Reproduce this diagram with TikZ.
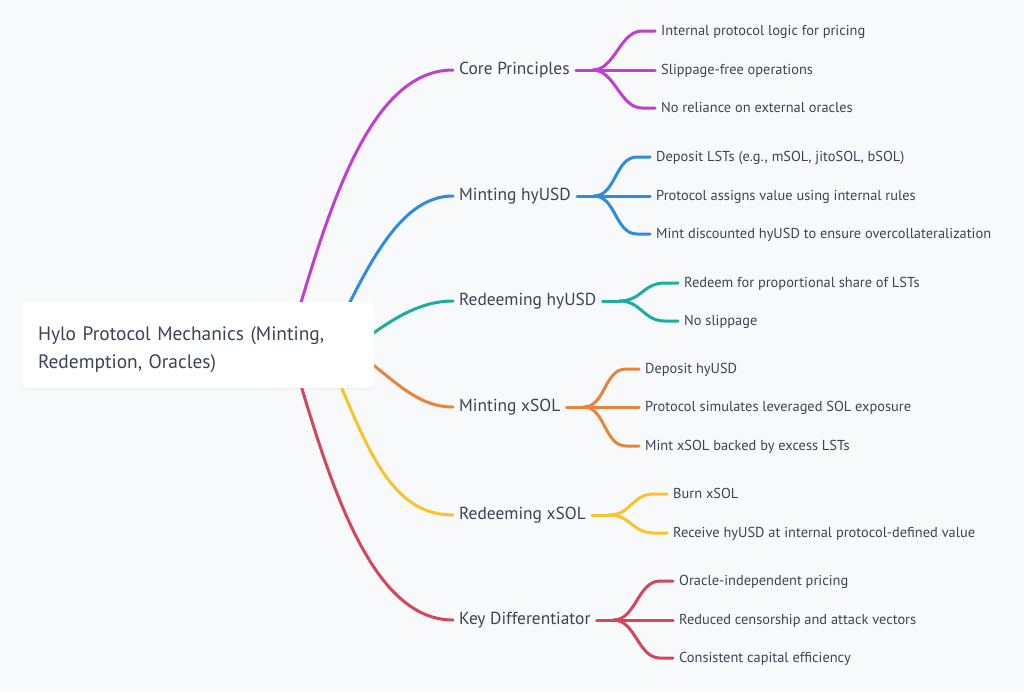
\documentclass[tikz,border=0pt]{standalone}
\usepackage{fontspec}
\setmainfont{PT Sans}
\usetikzlibrary{calc,backgrounds}
\definecolor{bg}{HTML}{F8F9FB}
\definecolor{txt}{HTML}{3B4454}
\definecolor{cpur}{HTML}{C03FD2}
\definecolor{cblu}{HTML}{2F8BDD}
\definecolor{ctea}{HTML}{1BAE9E}
\definecolor{cora}{HTML}{E8843A}
\definecolor{cyel}{HTML}{F8C42A}
\definecolor{cred}{HTML}{D4465C}
\begin{document}
\begin{tikzpicture}[x=1pt,y=-1pt,
  rootbox/.style={fill=white,rounded corners=6pt,minimum width=352pt,minimum height=86pt,
    text width=320pt,inner xsep=16pt,inner ysep=0pt,align=left,text=txt,
    font=\fontsize{19.4}{28}\selectfont},
  branch/.style={anchor=west,inner xsep=6pt,inner ysep=0pt,text=txt,
    text height=0.92em,text depth=0pt,font=\fontsize{17.4}{20}\selectfont},
  leaf/.style={anchor=west,inner xsep=6pt,inner ysep=0pt,text=txt,
    text height=0.95em,text depth=0pt,font=\fontsize{14.4}{17}\selectfont},
  link/.style={line width=3pt,line cap=round}]
\useasboundingbox (0,0) rectangle (1024,691);

% root
\node[rootbox] (root) at (198,345) {\rule{0pt}{23pt}Hylo Protocol Mechanics (Minting,\\Redemption, Oracles)};

% branches
\node[branch] (b1) at (453,70)  {Core Principles};
\node[branch] (b2) at (453,196) {Minting hyUSD};
\node[branch] (b3) at (453,301) {Redeeming hyUSD};
\node[branch] (b4) at (453,407) {Minting xSOL};
\node[branch] (b5) at (453,515) {Redeeming xSOL};
\node[branch] (b6) at (453,620) {Key Differentiator};

% leaves
\node[leaf] (l11) at (655,31)  {Internal protocol logic for pricing};
\node[leaf] (l12) at (655,70)  {Slippage-free operations};
\node[leaf] (l13) at (655,108) {No reliance on external oracles};
\node[leaf] (l21) at (650,157) {Deposit LSTs (e.g., mSOL, jitoSOL, bSOL)};
\node[leaf] (l22) at (650,196) {Protocol assigns value using internal rules};
\node[leaf] (l23) at (650,234) {Mint discounted hyUSD to ensure overcollateralization};
\node[leaf] (l31) at (678,283) {Redeem for proportional share of LSTs};
\node[leaf] (l32) at (678,321) {No slippage};
\node[leaf] (l41) at (639,369) {Deposit hyUSD};
\node[leaf] (l42) at (639,407) {Protocol simulates leveraged SOL exposure};
\node[leaf] (l43) at (639,446) {Mint xSOL backed by excess LSTs};
\node[leaf] (l51) at (667,494) {Burn xSOL};
\node[leaf] (l52) at (667,533) {Receive hyUSD at internal protocol-defined value};
\node[leaf] (l61) at (673,581) {Oracle-independent pricing};
\node[leaf] (l62) at (673,620) {Reduced censorship and attack vectors};
\node[leaf] (l63) at (673,658) {Consistent capital efficiency};

% start points of the main branches (under the root box)
\coordinate (s1) at ($(root.center)+(102,-39)$);
\coordinate (s2) at ($(root.center)+(150,-39)$);
\coordinate (s3) at ($(root.center)+(174,-11)$);
\coordinate (s4) at ($(root.center)+(174,19)$);
\coordinate (s5) at ($(root.center)+(142,39)$);
\coordinate (s6) at ($(root.center)+(102,37)$);

\begin{scope}[on background layer]
  \fill[bg] (0,0) rectangle (1024,691);
  \fill[black!6,rounded corners=6pt] ($(root.south west)+(0,1.5)$) rectangle ($(root.north east)+(0,1.5)$);
  \draw[link,cpur] (s1) .. controls +(35,-118) and +(-77,0) .. (b1.west);
  \draw[link,cblu] (s2) .. controls +(30,-60) and +(-45,0) .. (b2.west);
  \draw[link,ctea] (s3) .. controls +(23,-16) and +(-32,0) .. (b3.west);
  \draw[link,cora] (s4) .. controls +(28,22) and +(-32,0) .. (b4.west);
  \draw[link,cyel] (s5) .. controls +(32,76) and +(-57,0) .. (b5.west);
  \draw[link,cred] (s6) .. controls +(35,118) and +(-77,0) .. (b6.west);
\end{scope}

% sub-branches
\foreach \b/\c/\ls in {b1/cpur/{l11,l12,l13}, b2/cblu/{l21,l22,l23}, b3/ctea/{l31,l32},
                       b4/cora/{l41,l42,l43}, b5/cyel/{l51,l52}, b6/cred/{l61,l62,l63}}{
  \coordinate (f) at ($(\b.east)+(17,0)$);
  \draw[link,\c] (\b.east) -- (f);
  \foreach \l in \ls {
    \draw[link,\c] (f) .. controls +(22,0) and +(-22,0) .. ($(\l.west)+(-13,0)$) -- (\l.west);
  }
}
\end{tikzpicture}
\end{document}
